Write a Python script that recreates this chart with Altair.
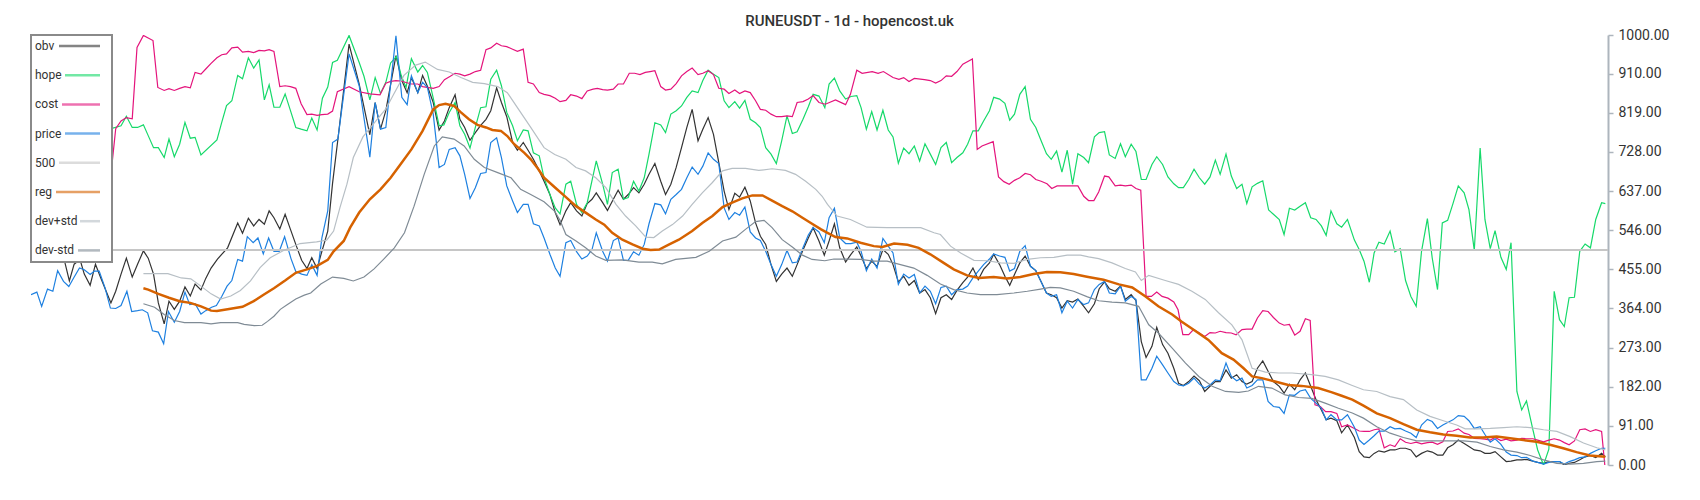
import altair as alt
import pandas as pd

# ---- data (x = day index, y = normalised value 0..1000) ----
price_pts = [(0,396),(1.1,402),(2,369),(3.1,409),(4.1,404),(5,452),(6.1,427),(7.1,415),(8,435),(9.1,458),(10,454),(11.1,443),(11.9,451),(12.8,451),(13.9,412),(14.9,365),(15.9,364),(16.9,371),(18,404),(18.9,357),(20,359),(20.9,361),(21.9,354),(22.8,312),(23.9,309),(24.9,282),(25.8,357),(26.9,332),(27.9,357),(28.9,402),(29.8,373),(30.8,375),(31.9,351),(32.8,359),(33.9,367),(34.8,371),(35.8,392),(36.8,416),(37.7,429),(38.8,478),(39.7,474),(40.6,531),(41.7,517),(42.6,528),(43.6,491),(44.6,528),(45.6,497),(46.6,497),(47.6,531),(48.8,480),(49.7,450),
(50.8,444),(51.8,441),(52.7,466),(53.7,441),(54.6,528),(55.7,591),(56.6,750),(57.6,758),(59.7,956),(61.6,882),(63.6,716),(64.6,843),(65.6,781),(66.6,785),(68.5,998),(69.6,855),(70.6,838),(71.4,905),(72.6,866),(73.5,890),(74.4,878),(75.5,816),(76.6,692),(77.6,699),(78.5,734),(79.6,738),(80.5,719),(81.4,676),(82.4,620),(83.4,645),(84.4,678),(85.4,680),(86.3,750),(87.4,761),(88.3,715),(89.3,649),(90.4,614),(91.3,587),(92.4,606),(93.3,606),(94.3,561),(95.4,556),(96.3,528),(97.4,490),(98.4,458),(99.3,439),
(100.4,517),(101.3,522),(102.4,496),(103.4,479),(104.4,486),(105.3,501),(106.1,540),(107.3,497),(108.2,474),(109.3,522),(110.2,528),(111.2,476),(112.1,476),(113.1,496),(114.1,488),(115.1,513),(116,561),(117.1,608),(118.2,605),(119.1,584),(120.1,618),(121.1,629),(122.1,641),(123.1,668),(124.1,693),(125.2,676),(126.1,695),(127.1,726),(128.1,711),(129.1,701),(130.1,598),(131,571),(132.1,587),(133,581),(134,600),(135,542),(136,528),(136.9,522),(137.9,497),(138.9,466),(139.9,439),(140.9,466),(141.9,499),(142.9,470),(143.8,472),(144.9,505),(145.9,535),(146.8,552),(147.9,542),
(148.9,517),(149.8,575),(150.8,597),(151.8,528),(152.9,515),(153.9,515),(155,518),(155.8,497),(156.8,452),(157.8,479),(158.8,458),(159.9,527),(160.9,509),(161.8,493),(162.8,420),(163.8,444),(164.8,435),(165.8,443),(166.8,400),(167.8,416),(168.8,404),(169.8,375),(170.8,413),(171.8,416),(172.8,396),(173.8,408),(174.9,409),(175.8,416),(176.8,435),(177.8,451),(178.8,466),(179.9,479),(180.7,491),(181.8,486),(182.8,483),(183.7,451),(184.6,457),(185.6,497),(186.6,510),(187.6,462),(188.6,452),(189.6,426),(190.6,400),(191.5,392),(192.5,396),(193.5,354),(194.5,381),(195.5,365),(196.5,385),(197.6,373),
(198.5,377),(199.6,408),(200.5,420),(201.5,427),(202.4,400),(203.5,398),(204.5,416),(205.4,381),(206.5,392),(207.4,385),(208.4,198),(209.3,198),(210.4,225),(211.3,253),(212.4,233),(213.4,214),(214.5,194),(215.4,186),(216.3,184),(217.3,190),(218.3,202),(219.3,188),(220.3,179),(221.3,186),(222.3,198),(223.2,196),(224.3,237),(225.3,206),(226.3,196),(227.3,202),(228.2,179),(229.2,185),(230.2,198),(231.2,198),(232.2,148),(233.2,136),(234.3,134),(235.2,120),(236.2,163),(237.2,162),(238.2,172),(239.2,175),(240.2,155),(241.2,144),(242.2,132),(243.1,105),(244,117),(245.1,105),(246,105),(247.1,117),
(248.4,88),(249.3,58),(250.2,48),(251.2,58),(252.1,68),(253,79),(254,79),(255.1,89),(256,84),(257,85),(258,79),(259,74),(260,64),(261,93),(262.1,106),(263,101),(264,85),(265,93),(265.9,99),(266.9,105),(267.9,115),(269,113),(269.9,103),(270.9,85),(272,89),(272.9,71),(273.9,53),(274.8,61),(275.9,48),(276.9,30),(277.8,23),(278.9,22),(279.8,17),(280.7,18),(281.9,9),(282.8,6),(283.9,2),(284.9,6),(285.9,8),(286.9,8),(287.8,2),(288.7,8),(289.7,12),(290.7,17),(291.7,19),(292.7,27),(293.7,33),(294.8,39),(295.5,39)]

obv_pts = [(0,495),(2,520),(4,505),(5.5,492),(6.3,474),(7.2,428),(8.1,467),(9.2,478),(10,444),(11.1,418),(12.1,467),(13.1,435),(15,377),(15.9,404),(16.9,444),(17.9,481),(19,437),(20,467),(21.1,498),(22,481),(23,444),(23.9,377),(25,328),(25.9,381),(26.9,362),(27.9,381),(28.9,414),(29.9,393),(30.8,421),(31.9,407),(32.8,434),(33.8,458),(35,479),(36.9,505),(38.8,563),(39.7,539),(40.8,574),(41.8,556),(42.8,571),(43.8,560),(44.7,591),(45.6,575),(46.7,549),(47.7,583),(48.7,548),
(49.7,513),(50.8,476),(51.8,457),(52.7,482),(53.7,457),(54.6,497),(55.7,544),(56.6,655),(57.6,757),(59.7,979),(61.6,886),(63.6,768),(64.6,843),(65.6,781),(66.6,824),(68.5,952),(69.6,894),(70.6,866),(71.4,901),(72.6,866),(73.5,906),(74.4,881),(75.5,843),(76.6,779),(77.6,800),(78.5,831),(79.6,861),(80.5,804),(81.4,785),(82.4,755),(83.4,773),(84.4,790),(85.4,804),(86.3,824),(87.4,877),(88.3,843),(89.3,810),(90.4,750),(91.3,732),(92.4,750),(93.3,732),(94.3,711),(95.4,684),(96.3,660),(97.4,629),(98.4,587),(99.3,559),
(100.4,591),(101.3,610),(102.4,591),(103.4,579),(104.4,608),(105.3,618),(106.1,633),(107.3,610),(108.2,592),(109.3,618),(110.2,639),(111.2,618),(112.1,629),(113.1,645),(114.1,633),(115.1,653),(116,676),(117.1,701),(118.2,660),(119.1,629),(120.1,653),(121.1,692),(122.1,738),(123.1,785),(124.1,827),(125.2,754),(126.1,781),(127.1,808),(128.1,769),(129.1,703),(130.1,637),(131,594),(132.1,632),(133,623),(134,646),(135,614),(136,563),(136.9,532),(137.9,513),(138.9,466),(139.9,427),(140.9,444),(141.9,458),(142.9,439),(143.8,466),(144.9,500),(145.9,528),(146.8,552),(147.9,521),
(148.9,488),(149.8,521),(150.8,561),(151.8,505),(152.9,472),(153.9,490),(155,507),(155.8,486),(156.8,457),(157.8,474),(158.8,462),(159.9,501),(160.9,490),(161.8,466),(162.8,426),(163.8,439),(164.8,418),(165.8,429),(166.8,400),(167.8,408),(168.8,389),(169.8,352),(170.8,389),(171.8,396),(172.8,385),(173.8,406),(174.9,424),(175.8,437),(176.8,458),(177.8,431),(178.8,455),(179.9,470),(180.7,490),(181.8,466),(182.8,439),(183.7,418),(184.6,443),(185.6,470),(186.6,486),(187.6,462),(188.6,452),(189.6,426),(190.6,400),(191.5,396),(192.5,389),(193.5,365),(194.5,382),(195.5,379),(196.5,386),(197.6,369),
(198.5,354),(199.6,375),(200.5,410),(201.5,426),(202.4,410),(203.5,404),(204.5,416),(205.4,385),(206.5,396),(207.4,382),(208.4,287),(209.3,250),(210.4,276),(211.3,320),(212.4,280),(213.4,260),(214.5,225),(215.4,190),(216.3,185),(217.3,194),(218.3,207),(219.3,196),(220.3,171),(221.3,183),(222.3,194),(223.2,194),(224.3,221),(225.3,202),(226.3,210),(227.3,194),(228.2,188),(229.2,194),(230.2,225),(231.2,242),(232.2,218),(233.2,194),(234.3,183),(235.2,167),(236.2,188),(237.2,175),(238.2,198),(239.2,214),(240.2,183),(241.2,152),(242.2,128),(243.1,105),(244,109),(245.1,103),(246,75),(247.1,93),
(248.4,64),(249.3,31),(250.2,19),(251.2,17),(252.1,27),(253,33),(254,30),(255.1,35),(256,35),(257,39),(258,39),(259,35),(260,19),(261,27),(262.1,33),(263,30),(264,23),(265,23),(265.9,40),(266.9,47),(267.9,58),(269,50),(269.9,43),(270.9,35),(272,33),(272.9,27),(273.9,27),(274.8,31),(275.9,19),(276.9,8),(277.8,9),(278.9,12),(279.8,12),(280.7,13),(281.9,9),(282.8,6),(283.9,4),(284.9,8),(285.9,8),(286.9,8),(287.8,0),(288.7,4),(289.7,6),(290.7,12),(291.7,19),(292.7,22),(293.7,17),(294.8,27),(295.5,19)]

hope_pts = [(0,770),(2,790),(4,772),(6,795),(8,778),(10,800),(12,780),(14,786),(15.2,783),(16.9,789),(17.9,811),(19,785),(20,785),(21.1,791),(22,766),(23,738),(23.9,738),(25,715),(25.9,758),(26.9,717),(27.9,746),(28.9,797),(29.9,760),(30.8,762),(31.9,721),(34.9,756),(35.8,797),(36.7,836),(37.7,847),(38.8,906),(39.7,898),(40.8,947),(41.8,923),(42.8,942),(43.8,849),(44.7,884),(45.6,832),(46.7,832),(47.7,863),(48.7,824),
(49.7,785),(50.7,781),(51.8,777),(52.7,807),(53.7,779),(54.7,853),(55.7,879),(56.6,936),(57.5,941),(59.7,999),(61.6,936),(62.5,904),(63.6,849),(64.6,901),(65.6,864),(66.6,890),(67.5,935),(68.6,950),(69.5,905),(70.4,878),(71.4,945),(72.6,914),(73.5,929),(74.4,913),(75.5,853),(76.6,789),(77.5,791),(78.5,820),(79.6,843),(80.5,789),(81.4,769),(82.4,737),(83.4,785),(84.4,831),(85.4,833),(86.3,897),(87.4,918),(88.3,882),(89.3,820),(90.4,789),(91.3,754),(92.4,779),(93.3,777),(94.3,726),(95.4,719),(96.3,668),(97.4,629),(98.4,598),(99.3,584),
(100.4,653),(101.3,660),(102.4,606),(103.4,587),(104.4,610),(106.1,707),(107.3,653),(108.2,606),(109.1,680),(110.2,688),(111.2,618),(112.1,622),(113.1,660),(114.1,637),(115.1,668),(116,723),(117.1,796),(118.2,791),(119.1,773),(120.1,816),(121.1,824),(122.1,835),(123.1,855),(124.1,870),(125.2,866),(126.1,894),(127.1,918),(128.1,909),(129.1,901),(130.1,847),(131,831),(132.1,845),(133,830),(134,848),(135,804),(136,796),(136.9,785),(137.9,738),(138.9,723),(139.9,701),(140.9,754),(141.9,812),(142.9,771),(143.8,775),(144.9,804),(145.9,833),(146.8,862),(147.9,858),
(149,831),(149.8,886),(150.8,900),(151.8,870),(152.9,851),(153.9,857),(155,859),(155.8,831),(156.8,781),(157.8,822),(158.8,779),(159.9,825),(160.9,779),(161.8,763),(162.8,702),(163.8,737),(164.8,724),(165.8,742),(166.8,707),(167.8,747),(168.8,723),(169.8,699),(170.8,738),(171.8,750),(172.8,703),(173.8,715),(174.9,726),(175.8,746),(176.8,777),(177.8,777),(178.8,800),(179.9,824),(180.7,855),(181.8,851),(182.8,841),(183.7,802),(184.6,816),(185.6,862),(186.6,880),(187.6,804),(188.6,785),(189.6,754),(190.6,724),(191.5,711),(192.5,730),(193.5,681),(194.5,732),(195.5,653),(196.5,724),(197.6,715),
(198.5,703),(199.6,763),(200.5,773),(201.5,775),(202.4,721),(203.5,713),(204.5,747),(205.4,717),(206.5,746),(207.4,729),(208.4,664),(209.3,664),(210.4,699),(211.3,717),(212.4,699),(213.4,670),(214.5,654),(215.4,645),(216.3,645),(217.3,664),(218.3,688),(219.3,668),(220.3,653),(221.3,670),(222.3,709),(223.2,676),(224.3,723),(225.3,672),(226.3,643),(227.3,653),(228.2,608),(229.2,647),(230.2,655),(231.2,661),(232.3,593),(233.2,583),(234.3,571),(235.2,536),(236.2,597),(237.2,593),(238.2,602),(239.2,610),(240.2,575),(241.2,571),(242.2,556),(243.1,534),(244,591),(245.1,561),(246,553),(247.1,571),
(248.4,523),(249.3,501),(250.2,474),(251.2,425),(252.1,493),(253,518),(254,514),(255.1,544),(256,496),(257,503),(258,429),(259,392),(260,369),(261,497),(262.1,573),(263,482),(264,408),(264.9,563),(265.9,569),(266.9,608),(267.9,649),(269,633),(269.9,594),(270.9,499),(272,737),(272.9,571),(273.9,503),(274.8,545),(275.9,483),(276.9,455),(277.8,517),(278.9,171),(279.8,128),(280.7,149),(281.9,82),(282.8,35),(283.9,0),(284.9,37),(285.9,404),(286.9,338),(287.8,322),(288.7,389),(289.7,390),(290.7,497),(291.7,514),(292.7,505),(293.7,571),(294.8,610),(295.5,608)]

cost_pts = [(0,640),(3,655),(6,645),(9,660),(12,650),(14.5,670),(15.2,699),(15.9,782),(16.9,800),(17.9,808),(19,805),(19.9,971),(21.1,999),(22.9,987),(23.8,878),(25,871),(25.9,875),(26.9,871),(27.9,876),(28.9,880),(29.9,877),(30.8,913),(31.9,909),(32.8,921),(33.8,934),(34.9,947),(35.8,954),(36.7,956),(37.7,970),(38.8,972),(39.7,960),(40.8,962),(41.8,959),(42.8,964),(43.8,963),(44.7,966),(45.6,962),(46.7,880),(47.7,882),(48.7,880),(49.7,876),(50.7,840),(51.8,815),(52.7,816),(53.7,813),(54.6,815),(55.7,816),(56.6,823),(57.5,868),(59.7,880),(61.6,868),(63.6,863),(65.5,861),(66.6,888),(67.5,892),(68.5,894),(69.4,893),(71.4,886),(72.6,886),(73.5,880),(75.5,876),(76.6,880),(77.6,896),(78.7,904),(79.6,911),(80.5,909),(81.4,905),(82.4,909),(83.4,915),(84.4,918),(85.4,966),(86.3,970),(87.4,981),(88.3,975),(89.3,973),(90.4,967),(91.3,962),(92.4,967),(93.3,890),(94.3,886),(95.4,866),(96.3,862),(97.4,859),(98.4,853),(99.3,845),
(100.4,848),(101.3,861),(102.4,858),(103.4,852),(104.4,870),(105.5,874),(106.3,876),(107.3,873),(108.2,872),(109.3,874),(110.2,886),(111.2,886),(112.3,911),(113.3,911),(114.3,908),(115.3,913),(116.2,915),(117.1,917),(118.2,880),(119.1,872),(120.1,874),(121.1,887),(122.1,905),(123.1,915),(124.1,923),(125.2,908),(126.1,911),(127.1,917),(128.1,908),(129.1,876),(130.1,874),(131,864),(132.1,872),(133,864),(134,870),(135,866),(136,847),(136.9,827),(137.9,825),(138.9,816),(139.9,810),(140.9,810),(141.9,812),(142.9,810),(143.8,843),(144.9,845),(145.9,851),(146.8,859),(147.9,843),
(149.1,839),(151,849),(152.9,838),(153.8,862),(155,918),(156,911),(157.9,915),(159,911),(160,915),(161.8,901),(162.9,897),(163.8,901),(164.8,892),(165.8,899),(167.7,896),(168.8,894),(169.8,888),(170.8,894),(171.8,905),(172.8,904),(173.8,915),(174.9,932),(176.7,944),(177.6,734),(178.5,742),(180.6,752),(181.6,670),(182.6,659),(183.6,653),(184.6,662),(185.6,668),(186.6,678),(187.6,675),(188.6,664),(189.6,660),(190.7,654),(191.6,643),(192.6,649),(194.5,649),(196.5,649),(197.6,625),
(198.5,615),(199.5,615),(200.4,635),(201.5,672),(202.3,670),(203.5,649),(204.5,651),(205.4,649),(206.5,651),(207.4,643),(208.3,639),(209.3,392),(210.3,392),(211.3,402),(212.3,392),(213.4,388),(214.5,379),(215.3,361),(216.2,303),(217.3,303),(218.2,315),(219.3,307),(220.3,299),(221.3,308),(222.3,307),(223.2,311),(224.3,308),(225.3,307),(226.2,303),(227.3,315),(228.2,316),(229.2,316),(230.2,342),(231.2,359),(232.2,357),(233.2,343),(234.3,330),(235.2,325),(236.2,327),(237.2,302),(238.2,311),(239.2,340),(240.1,336),(241,140),(242,136),(243,124),(244,124),(245.1,120),(246,89),(247.1,93),
(248.4,85),(249.3,79),(250.2,78),(251.2,78),(252.1,82),(253,84),(254,40),(255.1,47),(256,43),(257,61),(258,53),(259,50),(260,53),(261,49),(262.1,52),(263,53),(264,48),(265,54),(265.9,78),(266.9,79),(267.9,84),(269,74),(269.9,71),(270.9,62),(272,61),(272.9,60),(273.9,58),(274.8,64),(275.9,57),(276.9,60),(277.8,56),(278.9,58),(279.8,62),(280.7,61),(281.9,61),(282.8,58),(283.9,54),(284.9,58),(285.9,61),(286.9,58),(287.8,52),(288.7,47),(289.7,56),(290.7,82),(291.7,84),(292.7,78),(293.7,82),(294.8,78),(295.4,0)]

reg_pts = [(21.1,411),(22,408),(23.9,398),(25.9,389),(27.9,381),(29.9,377),(31.9,369),(33.8,359),(34.9,358),(36.9,362),(39.7,368),(41.8,381),(43.8,397),(45.6,411),(47.7,429),(49.7,447),(51.8,455),(53.7,463),(55.7,477),(56.8,497),(58.7,521),(59.9,552),(61.6,587),(63.6,618),(65.6,641),(67.5,668),(69.4,700),(71.4,734),(73.5,777),(75.5,827),(76.6,837),(77.8,840),(79.4,835),(80.7,820),(82.2,804),(83.8,791),(85.4,785),(86.6,779),(88.2,777),(89.4,765),(90.7,746),(92.6,726),(93.8,711),(95.1,690),(96.3,668),(98.3,646),(100.4,623),(102.3,602),(104.1,587),(106,571),(107.6,559),(109.1,540),(111,524),(112.9,513),(114.8,503),(116.3,500),(117.9,501),(119.8,513),(121.6,524),(124.1,544),(126,563),(127.9,579),(129.8,600),(131.6,610),(133.5,620),(135.4,627),(137.3,627),(139.1,615),(141,602),(142.9,590),(144.8,575),(146.6,561),(148.3,548),(149.5,540),(151,530),(153.2,527),(155.7,517),(158.2,509),(159.8,507),(162,515),(164.5,512),(166.6,505),(168.8,490),(171.3,470),(173.2,455),(175.7,441),(177.9,435),(180.7,437),(183.2,434),(185.7,437),(188.2,444),(190.7,449),(193.2,448),(195.7,444),(198.2,438),(201.3,431),(204.2,420),(206.7,413),(209.2,392),(211.6,369),(214.2,350),(216,333),(218.5,312),(221,291),(223.5,260),(225.7,245),(227.6,225),(229.2,206),(231,202),(233.5,194),(236,186),(238.5,184),(241.6,179),(244.2,169),(246,161),(248,152),(250.1,138),(252.6,120),(255.1,109),(257.6,95),(260.1,82),(262.6,76),(265.1,71),(267.6,68),(270.1,64),(272.6,64),(275.1,66),(277.6,62),(280.1,58),(282.6,54),(285.1,47),(287.6,39),(290.1,30),(292.6,22),(295.5,19)]

dev_plus_pts = [(21.1,445),(25.7,445),(28.2,435),(30,433),(31.9,416),(33.8,398),(35.6,386),(37.5,393),(39.3,406),(41.2,428),(43,459),(44.9,482),(47.4,499),(50.5,515),(53.6,519),(55.5,523),(56.8,544),(58,599),(59.3,653),(60.5,715),(62.3,763),(64.4,795),(66.6,828),(68.1,863),(70,906),(72.2,930),(74,937),(76.3,920),(78.5,914),(80.7,901),(82.9,890),(85.1,887),(87.6,880),(89.4,866),(91.3,831),(93.8,785),(96.3,738),(98.3,722),(100.4,711),(102.3,692),(104.1,684),(106,668),(107.9,645),(109.8,606),(111.6,579),(113.5,556),(115.4,530),(116.9,529),(118.5,544),(120.4,559),(122.3,579),(124.1,606),(126,633),(127.9,657),(129.8,684),(131.6,690),(134.1,690),(136.6,685),(139.1,689),(141.6,685),(143.5,676),(145.4,660),(147.3,641),(148.5,625),(149.5,606),(151.3,579),(153.8,571),(156.9,553),(160.7,552),(163.8,552),(167,552),(169.5,540),(170.7,536),(172.6,509),(174.5,493),(177,476),(179.5,475),(182,470),(184.5,469),(187,478),(189.5,482),(192,483),(194.5,488),(197,488),(198.5,484),(200.4,480),(202.9,470),(205.4,457),(207.3,449),(208.4,429),(209.8,441),(212.9,429),(215.4,420),(217.9,404),(220.4,385),(222.9,354),(225.4,326),(227.3,291),(229.2,225),(231.7,216),(234.2,214),(236.7,214),(240.4,210),(242.9,206),(245.4,198),(248,185),(250.1,175),(252.6,171),(255.1,159),(257.6,152),(260.1,128),(262.6,113),(265.1,103),(267.6,93),(269.2,84),(271.4,84),(273.9,85),(276.4,87),(278.9,89),(281.4,87),(283.9,82),(286.4,78),(288.9,66),(291.4,51),(293.9,40),(295.5,35)]

dev_minus_pts = [(21.1,375),(23.2,367),(25,350),(26.9,336),(28.8,331),(31.9,331),(33.8,328),(35.6,331),(38.8,331),(40,327),(41.9,324),(43.4,325),(44.4,334),(45.6,346),(46.8,362),(48,372),(49.7,386),(51.3,395),(52.5,400),(54.4,421),(56.6,437),(58.7,434),(60.5,428),(62.5,437),(64.4,456),(66.3,480),(68.2,505),(70.1,540),(71.9,602),(73.8,676),(75.7,742),(77.2,763),(79.4,758),(81.3,742),(83.2,711),(85.1,692),(87.6,680),(90.1,668),(91.9,641),(93.8,629),(96.3,612),(98.3,590),(99.3,569),(100.4,536),(102.3,521),(104.1,505),(106,486),(107.9,476),(111,477),(114.1,472),(116.6,472),(118.5,468),(121,478),(124.8,483),(127.3,497),(129.8,521),(132.3,530),(134.1,548),(136,566),(137.6,569),(139.1,552),(141,524),(142.9,507),(144.8,488),(146.6,478),(149,475),(150.7,479),(153.2,479),(155.7,478),(158.2,474),(160.7,474),(163.2,466),(165.7,458),(168.2,441),(170.7,421),(173.2,408),(175.7,400),(178.2,396),(181.3,396),(184.5,400),(187,404),(189.5,409),(191.3,413),(193.2,412),(195.7,404),(198.3,391),(200.4,382),(202.9,379),(205.4,377),(207.9,369),(209.8,326),(211.6,307),(214.2,272),(216.7,237),(219.2,206),(221.7,183),(224.2,171),(226.7,169),(228.5,172),(230.4,183),(232.9,179),(235.4,163),(237.9,157),(240.4,155),(242.9,144),(245.4,132),(248,121),(250.1,109),(252.6,89),(255.1,74),(257.6,64),(260.1,56),(263.2,56),(266.4,56),(268.9,56),(271.4,53),(273.9,43),(276.4,35),(278.9,30),(281.4,22),(283.9,12),(286.4,4),(288.9,2),(291.4,4),(293.9,8),(295.5,9)]

level_pts = [(0,500),(296,500)]

series_names = ["obv", "hope", "cost", "price", "500", "reg", "dev+std", "dev-std"]
series_colors = ["#333333", "#16d96a", "#e4147c", "#1e80e0", "#c6c6c6", "#d66200", "#b7bfc5", "#7f8b95"]
series_widths = [1.2, 1.2, 1.2, 1.2, 2, 2.5, 1.2, 1.2]
series_points = [obv_pts, hope_pts, cost_pts, price_pts, level_pts, reg_pts, dev_plus_pts, dev_minus_pts]
# legend swatch start (the swatch fills the space after each label)
swatch_start = [17, 23, 20, 23, 17, 14, 38, 36]

y_ticks = [0, 91, 182, 273, 364, 455, 546, 637, 728, 819, 910, 1000]

rows = []
for name, pts in zip(series_names, series_points):
    for d, v in pts:
        rows.append({"series": name, "day": d, "value": v})
df = pd.DataFrame(rows)

color_scale = alt.Scale(domain=series_names, range=series_colors)

shape_expr = " : ".join(
    f"datum.value == '{n}' ? 'M{s},0H58M60,0'" for n, s in zip(series_names, swatch_start)
) + " : 'M38,0H58M60,0'"

layers = []
for i, (name, w) in enumerate(zip(series_names, series_widths)):
    enc = dict(
        x=alt.X("day:Q", scale=alt.Scale(domain=[0, 296], nice=False, zero=False), axis=None),
        y=alt.Y("value:Q", scale=alt.Scale(domain=[0, 1000], nice=False),
                axis=alt.Axis(orient="right", values=y_ticks, format=".2f", grid=False,
                              domainColor="#adb5bd", domainWidth=2, tickColor="#adb5bd",
                              tickWidth=1.5, tickSize=5, labelFontSize=14, labelColor="#333333",
                              labelFont="Roboto", labelPadding=5, title=None)),
        color=alt.Color("series:N", scale=color_scale, sort=series_names,
                        legend=alt.Legend(title=None, orient="top-left", offset=0, padding=5,
                                          strokeColor="#8a8a8a", fillColor="white",
                                          symbolType={"expr": shape_expr}, symbolSize=4,
                                          symbolStrokeWidth=2.5, symbolOpacity=0.6,
                                          labelFontSize=12, labelColor="#333333",
                                          labelFont="Roboto", rowPadding=17.2,
                                          labelOffset={"expr": "-13"})),
    )
    layer = (alt.Chart(df)
             .transform_filter(alt.datum.series == name)
             .mark_line(strokeWidth=w, clip=True, interpolate="linear")
             .encode(**enc))
    layers.append(layer)

chart = (alt.layer(*layers)
         .properties(width=1577, height=430,
                     padding={"left": 22, "top": 6, "right": 5, "bottom": 5},
                     title=alt.TitleParams("RUNEUSDT - 1d - hopencost.uk", fontSize=15,
                                           fontWeight=500, color="#333333", font="Roboto",
                                           anchor="middle", dx=30, offset=-1))
         .configure_view(strokeWidth=0)
         .configure_legend(strokeWidth=2))

chart.save("out.html", embed_options={"renderer": "svg", "actions": False})
